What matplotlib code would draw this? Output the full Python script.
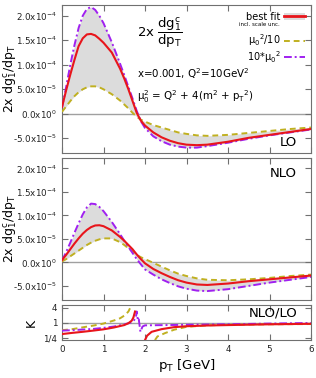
import numpy as np
import matplotlib
matplotlib.use("Agg")
import matplotlib.pyplot as plt
from matplotlib.patches import Patch
from matplotlib.lines import Line2D

plt.rcParams['font.family'] = ['DejaVu Sans']
plt.rcParams['mathtext.default'] = 'regular'

# ---- data (units of 1e-5) ----
pt = [0, 0.1, 0.2, 0.3, 0.4, 0.5, 0.6, 0.7, 0.8, 0.9, 1.0, 1.2, 1.4, 1.5, 1.6, 1.7,
      1.8, 1.9, 2.0, 2.2, 2.4, 2.6, 2.8, 3.0, 3.25, 3.5, 4.0, 4.5, 5.0, 5.5, 6.0]

lo_best = [1.4, 4.8, 8.0, 11.0, 13.8, 15.4, 16.2, 16.3, 16.0, 15.3, 14.5, 12.5, 9.2, 7.2, 5.0, 2.6,
           0.2, -1.4, -2.4, -3.8, -4.8, -5.5, -6.0, -6.3, -6.4, -6.3, -5.7, -4.9, -4.3, -3.7, -3.1]
lo_lo = [0.4, 1.5, 2.6, 3.6, 4.4, 5.0, 5.4, 5.6, 5.6, 5.4, 5.0, 4.0, 2.7, 1.9, 1.1, 0.2,
         -0.6, -1.2, -1.6, -2.3, -2.8, -3.3, -3.8, -4.1, -4.4, -4.5, -4.3, -3.9, -3.5, -3.1, -2.8]
lo_hi = [1.2, 5.5, 10.0, 14.0, 17.5, 20.0, 21.4, 21.8, 21.2, 20.0, 18.5, 14.6, 10.2, 7.9, 5.5, 3.1,
         0.6, -1.5, -2.9, -4.6, -5.6, -6.3, -6.7, -6.9, -6.9, -6.6, -5.9, -5.1, -4.4, -3.8, -3.2]

nlo_best = [0.5, 1.6, 2.8, 4.0, 5.1, 6.1, 6.9, 7.5, 7.85, 7.9, 7.7, 6.8, 5.4, 4.6, 3.7, 2.8,
            1.7, 0.7, -0.2, -1.4, -2.3, -3.1, -3.8, -4.3, -4.7, -4.8, -4.5, -4.0, -3.6, -3.2, -2.8]
nlo_lo = [0.2, 0.7, 1.3, 1.9, 2.5, 3.1, 3.7, 4.2, 4.6, 4.9, 5.1, 5.1, 4.3, 3.7, 3.0, 2.3,
          1.6, 1.1, 0.7, -0.1, -0.9, -1.7, -2.4, -2.9, -3.4, -3.7, -3.8, -3.6, -3.3, -2.9, -2.6]
nlo_hi = [0.4, 2.2, 4.2, 6.3, 8.3, 10.2, 11.7, 12.5, 12.4, 11.8, 10.9, 8.6, 6.0, 4.6, 3.3, 2.0,
          0.7, -0.4, -1.5, -2.6, -3.6, -4.4, -5.1, -5.6, -6.0, -6.1, -5.7, -5.0, -4.3, -3.7, -3.1]

# K factor NLO/LO (nan = gap)
k_pt_best = [0, 0.25, 0.5, 0.75, 1.0, 1.25, 1.5, 1.6, 1.68, 1.72, 1.76, 1.8,
             2.0, 2.05, 2.16, 2.4, 2.7, 3.0, 3.5, 4.0, 5.0, 6.0]
k_best = [0.35, 0.39, 0.43, 0.48, 0.54, 0.64, 0.8, 0.95, 1.2, 1.6, 2.8, np.nan,
          0.2, 0.3, 0.43, 0.55, 0.66, 0.72, 0.77, 0.8, 0.86, 0.9]
k_pt_lo = [0, 0.25, 0.5, 0.75, 1.0, 1.25, 1.4, 1.52, 1.6, 1.64, 1.68, 1.8,
           2.24, 2.3, 2.48, 2.7, 3.0, 3.5, 4.0, 5.0, 6.0]
k_lo = [0.5, 0.55, 0.65, 0.76, 0.92, 1.22, 1.5, 2.0, 2.8, 3.8, 5.2, np.nan,
        0.2, 0.28, 0.38, 0.52, 0.68, 0.78, 0.82, 0.86, 0.88]
k_pt_hi = [0, 0.25, 0.5, 0.75, 1.0, 1.25, 1.5, 1.65, 1.72, 1.78, 1.8, 1.83, 1.85,
           1.89, 1.94, 2.0, 2.5, 3.0, 4.0, 5.0, 6.0]
k_hi = [0.48, 0.5, 0.53, 0.56, 0.62, 0.7, 0.85, 1.0, 1.15, 1.6, 2.8, 1.2, 1.35,
        0.43, 0.7, 0.78, 0.8, 0.82, 0.86, 0.92, 0.97]

ytick_vals = [-5e-5, 0, 5e-5, 1e-4, 1.5e-4, 2e-4]
ytick_labels = ['-5.0x10$^{-5}$', '0.0x10$^{0}$', '5.0x10$^{-5}$',
                '1.0x10$^{-4}$', '1.5x10$^{-4}$', '2.0x10$^{-4}$']

RED = '#e8151b'
YEL = '#c0b020'
PUR = '#a020f0'
BAND = '#dcdcdc'
FRAME = '#707070'
DASH = (0, (3, 2))
DASHDOT = (0, (4, 1.5, 1, 1.5))

fig = plt.figure(figsize=(3.16, 3.78), dpi=100)
ax1 = fig.add_axes([62/316, 1-153/378, 249/316, 148/378])
ax2 = fig.add_axes([62/316, 1-300/378, 249/316, 142/378])
ax3 = fig.add_axes([62/316, 1-340/378, 249/316, 35/378])


def style(ax):
    for s in ax.spines.values():
        s.set_color(FRAME)
    ax.tick_params(direction='in', top=True, right=True, length=4, width=0.8,
                   colors=FRAME, labelcolor='#222222', labelsize=6.3)
    ax.set_xlim(0, 6)
    ax.set_xticks(range(7))


def panel(ax, best, lo, hi):
    x = np.array(pt)
    b = np.array(best) * 1e-5
    l = np.array(lo) * 1e-5
    h = np.array(hi) * 1e-5
    ax.axhline(0, color='#a0a0a0', lw=1, zorder=1)
    ax.fill_between(x, np.minimum(l, h), np.maximum(l, h), color=BAND, lw=0, zorder=2)
    ax.plot(x, l, color=YEL, lw=1.4, ls=DASH, zorder=3)
    ax.plot(x, h, color=PUR, lw=1.4, ls=DASHDOT, zorder=3)
    ax.plot(x, b, color=RED, lw=1.5, zorder=4)
    style(ax)
    ax.set_ylim(-0.8e-4, 2.22e-4)
    ax.set_yticks(ytick_vals)
    ax.set_yticklabels(ytick_labels)
    ax.set_xticklabels([])
    ax.set_ylabel('2x dg$_1^c$/dp$_T$', fontsize=9)
    ax.yaxis.set_label_coords(-0.172, 0.5)


panel(ax1, lo_best, lo_lo, lo_hi)
panel(ax2, nlo_best, nlo_lo, nlo_hi)

ax1.text(0.30, 0.81, r'2x $\dfrac{dg_1^c}{dp_T}$', transform=ax1.transAxes,
         ha='left', va='center', fontsize=9.5)
ax1.text(0.30, 0.534, 'x=0.001, Q$^2$=10GeV$^2$', transform=ax1.transAxes,
         ha='left', va='center', fontsize=7.4)
ax1.text(0.30, 0.378, r'$\mu_0^2$ = Q$^2$ + 4(m$^2$ + p$_T$$^2$)', transform=ax1.transAxes,
         ha='left', va='center', fontsize=7.4)
ax1.text(0.944, 0.068, 'LO', transform=ax1.transAxes, ha='right', va='center', fontsize=9.5)
ax2.text(0.944, 0.894, 'NLO', transform=ax2.transAxes, ha='right', va='center', fontsize=9.5)

# legend
h_best = (Patch(facecolor=BAND, edgecolor='none'), Line2D([], [], color=RED, lw=2))
leg1 = ax1.legend([h_best], ['best fit'], loc='upper right', bbox_to_anchor=(1.0, 0.995),
                  frameon=False, markerfirst=False, fontsize=7, handlelength=2.2,
                  handletextpad=0.3, borderaxespad=0.2)
ax1.add_artist(leg1)
ax1.text(0.875, 0.865, 'incl. scale unc.', transform=ax1.transAxes, ha='right',
         va='center', fontsize=4)
h_lo = Line2D([], [], color=YEL, lw=1.4, ls=DASH)
h_hi = Line2D([], [], color=PUR, lw=1.4, ls=DASHDOT)
ax1.legend([h_lo, h_hi], [r'$\mu_0$$^2$/10', r'10*$\mu_0$$^2$'], loc='upper right',
           bbox_to_anchor=(1.0, 0.855), frameon=False, markerfirst=False, fontsize=7,
           handlelength=2.2, handletextpad=0.3, labelspacing=0.1, borderaxespad=0.2,
           alignment='right')

# K panel
ax3.axhline(1, color='#a0a0a0', lw=1, zorder=1)
ax3.plot(k_pt_lo, k_lo, color=YEL, lw=1.4, ls=DASH, zorder=3)
ax3.plot(k_pt_hi, k_hi, color=PUR, lw=1.4, ls=DASHDOT, zorder=3)
ax3.plot(k_pt_best, k_best, color=RED, lw=1.5, zorder=4)
ax3.set_yscale('log')
style(ax3)
ax3.set_ylim(0.202, 5.1)
ax3.set_yticks([0.25, 1, 4])
ax3.set_yticklabels(['1/4', '1', '4'])
ax3.yaxis.set_minor_locator(matplotlib.ticker.NullLocator())
ax3.set_xticklabels([str(i) for i in range(7)])
ax3.set_ylabel('K', fontsize=9)
ax3.yaxis.set_label_coords(-0.096, 0.5)
ax3.set_xlabel('p$_T$ [GeV]', fontsize=9.5, labelpad=2)
ax3.text(0.944, 0.77, 'NLO/LO', transform=ax3.transAxes, ha='right', va='center', fontsize=9.5)

fig.savefig('out.png', dpi=100)
